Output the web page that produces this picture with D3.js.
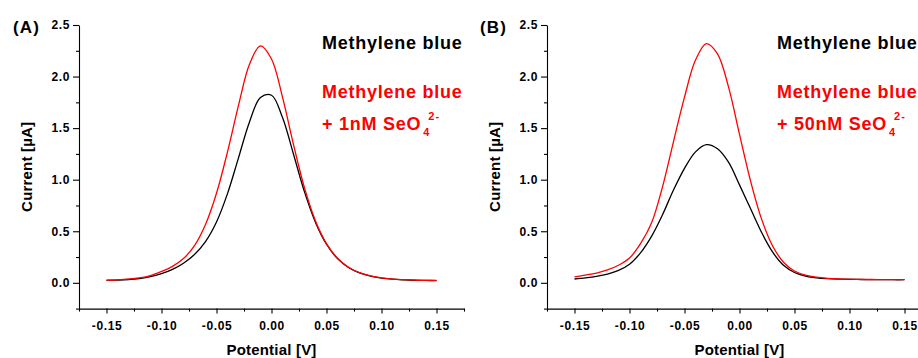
<!DOCTYPE html>
<html>
<head>
<meta charset="utf-8">
<script src="https://cdn.jsdelivr.net/npm/d3@7"></script>
<style>
  html, body { margin: 0; padding: 0; background: #fff; }
  svg { display: block; font-family: "Liberation Sans", Arial, sans-serif; font-weight: bold; }
</style>
</head>
<body>
<svg id="fig" width="918" height="358"></svg>
<script>
// Differential pulse voltammograms: potential (V) vs current (µA)
const potential = [-0.15, -0.14, -0.13, -0.12, -0.11, -0.10, -0.09, -0.08, -0.07, -0.06,
                   -0.05, -0.04, -0.03, -0.02, -0.01, 0.00, 0.01, 0.02, 0.03, 0.04,
                   0.05, 0.06, 0.07, 0.08, 0.09, 0.10, 0.11, 0.12, 0.13, 0.14, 0.15];

// Panel A: methylene blue alone and with 1 nM selenate
const mbA = [0.024, 0.027, 0.032, 0.042, 0.060, 0.090, 0.130, 0.190, 0.275, 0.400,
             0.590, 0.865, 1.212, 1.560, 1.797, 1.819, 1.603, 1.247, 0.882, 0.586,
             0.374, 0.235, 0.149, 0.096, 0.065, 0.046, 0.035, 0.029, 0.025, 0.023, 0.022];
const mbSeA = [0.025, 0.029, 0.036, 0.048, 0.070, 0.110, 0.160, 0.235, 0.360, 0.565,
               0.868, 1.270, 1.720, 2.120, 2.298, 2.170, 1.800, 1.340, 0.920, 0.600,
               0.380, 0.238, 0.151, 0.098, 0.067, 0.047, 0.036, 0.030, 0.026, 0.024, 0.023];

// Panel B: methylene blue alone and with 50 nM selenate
const mbB = [0.037, 0.048, 0.063, 0.085, 0.120, 0.180, 0.290, 0.450, 0.660, 0.900,
             1.110, 1.270, 1.340, 1.300, 1.170, 0.950, 0.720, 0.490, 0.300, 0.170,
             0.100, 0.065, 0.048, 0.040, 0.036, 0.034, 0.032, 0.031, 0.031, 0.030, 0.030];
const mbSeB = [0.058, 0.075, 0.095, 0.125, 0.170, 0.240, 0.380, 0.580, 0.930, 1.370,
               1.800, 2.160, 2.320, 2.220, 1.900, 1.440, 0.990, 0.620, 0.360, 0.200,
               0.115, 0.075, 0.055, 0.044, 0.038, 0.035, 0.033, 0.032, 0.031, 0.031, 0.031];

const xTicks = [-0.15, -0.10, -0.05, 0.00, 0.05, 0.10, 0.15];
const xMinor = [-0.175, -0.125, -0.075, -0.025, 0.025, 0.075, 0.125, 0.175];
const yTicks = [0.0, 0.5, 1.0, 1.5, 2.0, 2.5];
const yMinor = [-0.25, 0.25, 0.75, 1.25, 1.75, 2.25];

const panelTags = ["(A)", "(B)"];
const seriesName = "Methylene blue";
const additions = ["+ 1nM SeO", "+ 50nM SeO"];
const ionSub = "4";
const ionSup = "2-";
const xTitle = "Potential [V]";
const yTitle = "Current [\u00B5A]";

const svg = d3.select("#fig");

const panels = [
  { left: 79,  tag: panelTags[0], tagX: 13,  legendX: 322, black: mbA, red: mbSeA, add: additions[0] },
  { left: 547, tag: panelTags[1], tagX: 480, legendX: 777, black: mbB, red: mbSeB, add: additions[1] }
];

const plotW = 385, plotTop = 25, plotBottom = 308.6;

panels.forEach(p => {
  const x = d3.scaleLinear().domain([-0.175, 0.175]).range([p.left, p.left + plotW]);
  const y = d3.scaleLinear().domain([-0.25, 2.5]).range([plotBottom, plotTop]);
  const g = svg.append("g");

  // minor ticks
  g.append("g").attr("transform", `translate(0,${plotBottom})`)
    .call(d3.axisBottom(x).tickValues(xMinor).tickSize(3).tickFormat(""))
    .call(a => a.select(".domain").remove());
  g.append("g").attr("transform", `translate(${p.left},0)`)
    .call(d3.axisLeft(y).tickValues(yMinor).tickSize(3).tickFormat(""))
    .call(a => a.select(".domain").remove());

  // major axes
  const xa = g.append("g").attr("transform", `translate(0,${plotBottom})`)
    .call(d3.axisBottom(x).tickValues(xTicks).tickSize(5).tickSizeOuter(0)
      .tickPadding(8).tickFormat(d => d.toFixed(2)));
  const ya = g.append("g").attr("transform", `translate(${p.left},0)`)
    .call(d3.axisLeft(y).tickValues(yTicks).tickSize(6).tickSizeOuter(0)
      .tickPadding(3).tickFormat(d => d.toFixed(1)));

  g.selectAll(".tick line, .domain").attr("stroke", "#000").attr("stroke-width", 1.1);
  [xa, ya].forEach(a => a.selectAll("text")
    .attr("fill", "#000")
    .style("font-size", "12px")
    .style("font-weight", "bold")
    .style("letter-spacing", "0.6px")
    .style("font-family", '"Liberation Sans", Arial, sans-serif'));

  // curves
  const line = d3.line()
    .x((d, i) => x(potential[i]))
    .y(d => y(d))
    .curve(d3.curveCatmullRom);
  g.append("path").datum(p.black).attr("d", line)
    .attr("fill", "none").attr("stroke", "#000").attr("stroke-width", 1.3);
  g.append("path").datum(p.red).attr("d", line)
    .attr("fill", "none").attr("stroke", "#ff0000").attr("stroke-width", 1.3);

  // axis titles
  g.append("text")
    .attr("x", p.left + plotW / 2).attr("y", 354.5)
    .attr("text-anchor", "middle")
    .style("font-size", "15px").style("letter-spacing", "0.2px")
    .text(xTitle);
  g.append("text")
    .attr("transform", `translate(${p.left - 47},${(plotTop + plotBottom) / 2}) rotate(-90)`)
    .attr("text-anchor", "middle")
    .style("font-size", "15px").style("letter-spacing", "0.2px")
    .text(yTitle);

  // panel tag
  g.append("text")
    .attr("x", p.tagX).attr("y", 33)
    .style("font-size", "17px").style("letter-spacing", "1.2px")
    .text(p.tag);

  // legend text
  const lg = g.append("g")
    .style("font-size", "18px").style("letter-spacing", "0.75px");
  lg.append("text").attr("x", p.legendX).attr("y", 48.5)
    .attr("fill", "#000").text(seriesName);
  lg.append("text").attr("x", p.legendX).attr("y", 97.5)
    .attr("fill", "#ff0000").text(seriesName);
  const t = lg.append("text").attr("x", p.legendX).attr("y", 129.5)
    .attr("fill", "#ff0000");
  t.append("tspan").text(p.add);
  t.append("tspan").attr("dx", 2).attr("dy", 6)
    .style("font-size", "11px").style("letter-spacing", "0.8px").text(ionSub);
  t.append("tspan").attr("dx", -2).attr("dy", -16)
    .style("font-size", "11px").style("letter-spacing", "1.2px").text(ionSup);
});
</script>
</body>
</html>
